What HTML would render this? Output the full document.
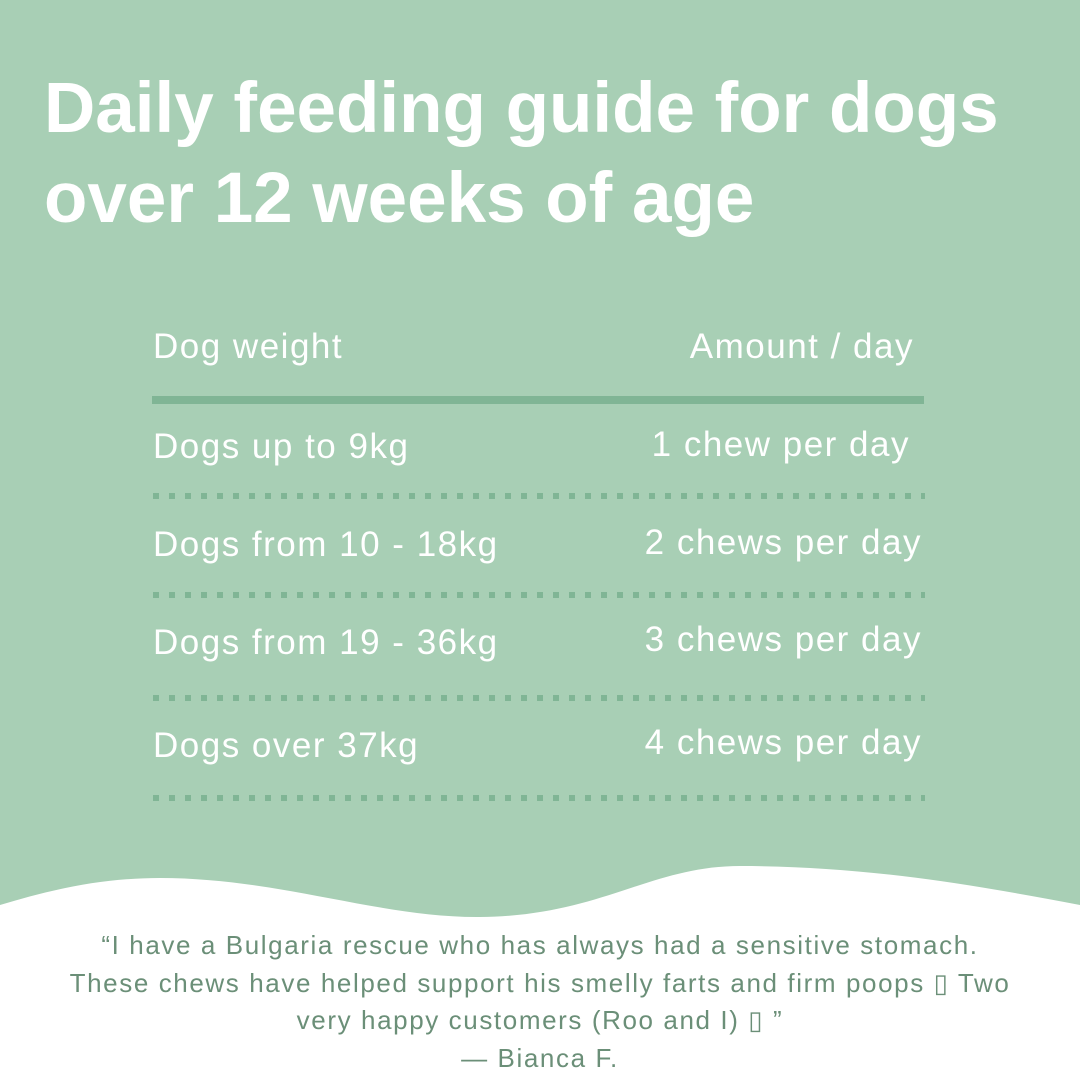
<!DOCTYPE html>
<html><head><style>
body{margin:0;width:1080px;height:1080px;background:#a8cfb5;position:relative;overflow:hidden;font-family:"Liberation Sans",sans-serif;}
.t{position:absolute;left:44px;color:#fff;font-weight:bold;font-size:71px;letter-spacing:0px;white-space:nowrap;}
.c{position:absolute;color:#fff;font-size:35px;letter-spacing:1.5px;white-space:nowrap;}
.r{text-align:right;}
.dots{position:absolute;left:153px;width:772px;height:6px;background:repeating-linear-gradient(90deg,#80b595 0 6px,transparent 6px 16px);}
.q{position:absolute;left:0;width:1080px;text-align:center;color:#6b8f78;font-size:26px;letter-spacing:1.6px;line-height:37.5px;}
</style></head><body>
<div class="t" style="top:68px">Daily feeding guide for dogs</div>
<div class="t" style="top:158px">over 12 weeks of age</div>
<div class="c" style="left:153px;top:327px">Dog weight</div>
<div class="c r" style="right:166px;top:327px">Amount / day</div>
<div style="position:absolute;left:152px;top:396px;width:772px;height:8px;background:#80b595"></div>
<div class="c" style="left:153px;top:427px">Dogs up to 9kg</div>
<div class="c r" style="right:170px;top:425px">1 chew per day</div>
<div class="dots" style="top:493px"></div>
<div class="c" style="left:153px;top:525px">Dogs from 10 - 18kg</div>
<div class="c r" style="right:158px;top:523px">2 chews per day</div>
<div class="dots" style="top:592px"></div>
<div class="c" style="left:153px;top:623px">Dogs from 19 - 36kg</div>
<div class="c r" style="right:158px;top:620px">3 chews per day</div>
<div class="dots" style="top:695px"></div>
<div class="c" style="left:153px;top:726px">Dogs over 37kg</div>
<div class="c r" style="right:158px;top:723px">4 chews per day</div>
<div class="dots" style="top:795px"></div>
<svg style="position:absolute;left:0;top:0" width="1080" height="1080"><path d="M0,905 C50,890 100,878 160,878 C280,878 380,918 480,917 C600,916 650,866 740,866 C850,866 950,880 1080,905 L1080,1080 L0,1080 Z" fill="#fff"/></svg>
<div class="q" style="top:927px">“I have a Bulgaria rescue who has always had a sensitive stomach.<br>These chews have helped support his smelly farts and firm poops ▯ Two<br>very happy customers (Roo and I) ▯ ”<br>— Bianca F.</div>
</body></html>
